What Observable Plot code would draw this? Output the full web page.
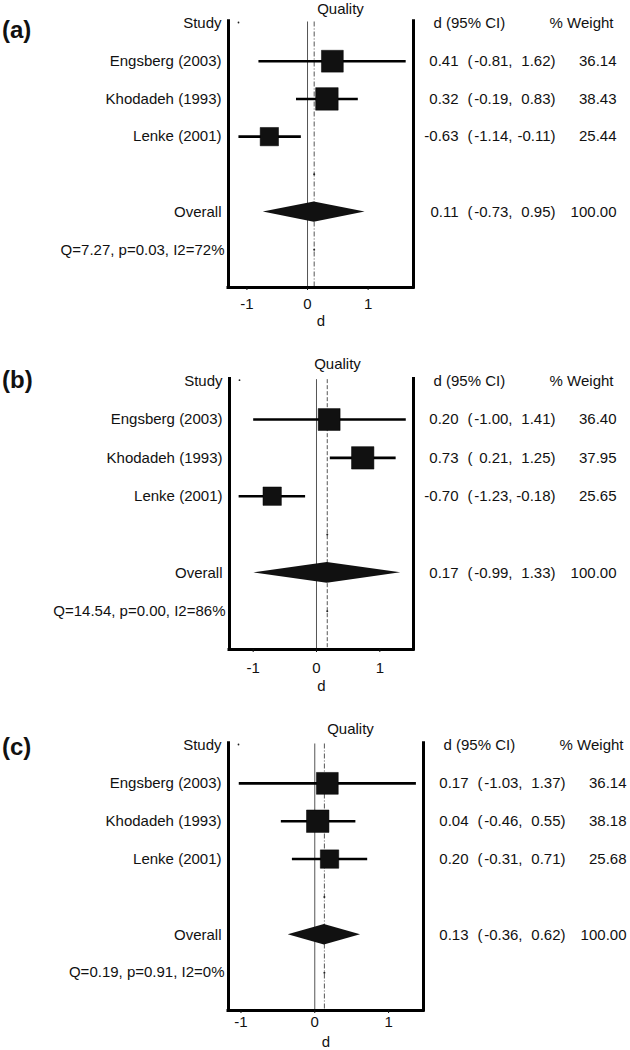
<!DOCTYPE html>
<html>
<head>
<meta charset="utf-8">
<script src="https://cdn.jsdelivr.net/npm/d3@7"></script>
<script src="https://cdn.jsdelivr.net/npm/@observablehq/plot@0.6"></script>
<style>
  html, body { margin: 0; padding: 0; background: #fff; }
  #wrap { position: relative; width: 630px; height: 1050px; overflow: hidden; background: #fff; }
  .panel { position: absolute; left: 0; }
  .plabel { position: absolute; left: 2px; font: bold 24px "Liberation Sans", Arial, sans-serif; color: #111; line-height: 24px; }
</style>
</head>
<body>
<div id="wrap"></div>
<script>
// ---------------- data ----------------
const studies = ["Engsberg (2003)", "Khodadeh (1993)", "Lenke (2001)"];
const panelLabels = ["(a)", "(b)", "(c)"];
const headStudy = "Study";
const headCI = "d (95% CI)";
const headWeight = "% Weight";
const overallLabel = "Overall";
const plotTitle = "Quality";
const axisLabel = "d";
const xTicks = [-1, 0, 1];

// panel (a)
const estA = [0.41, 0.32, -0.63];
const loA  = [-0.81, -0.19, -1.14];
const hiA  = [1.62, 0.83, -0.11];
const wA   = [36.14, 38.43, 25.44];
const overallA = [0.11, -0.73, 0.95]; // est, lo, hi
const overallWA = 100.00;
const hetA = "Q=7.27, p=0.03, I2=72%";

// panel (b)
const estB = [0.20, 0.73, -0.70];
const loB  = [-1.00, 0.21, -1.23];
const hiB  = [1.41, 1.25, -0.18];
const wB   = [36.40, 37.95, 25.65];
const overallB = [0.17, -0.99, 1.33];
const overallWB = 100.00;
const hetB = "Q=14.54, p=0.00, I2=86%";

// panel (c)
const estC = [0.17, 0.04, 0.20];
const loC  = [-1.03, -0.46, -0.31];
const hiC  = [1.37, 0.55, 0.71];
const wC   = [36.14, 38.18, 25.68];
const overallC = [0.13, -0.36, 0.62];
const overallWC = 100.00;
const hetC = "Q=0.19, p=0.91, I2=0%";

// ---------------- layout ----------------
const layouts = [
  {top: 0,   labelTop: 18,  height: 330, mt: 23,   mb: 43, ml: 228, mr: 217, domain: [-1.304, 1.749], titleDx: 112, titleDy: -14.5, tickPad: 8,  dDy: 34, dash: "5,2,1,2"},
  {top: 355, labelTop: 368, height: 339, mt: 25.7, mb: 45, ml: 229, mr: 217, domain: [-1.374, 1.532], titleDx: 108, titleDy: -17.5, tickPad: 10, dDy: 37, dash: "4,2"},
  {top: 720, labelTop: 735, height: 330, mt: 25,   mb: 40, ml: 228, mr: 207, domain: [-1.169, 1.473], titleDx: 122, titleDy: -16,  tickPad: 3,  dDy: 32, dash: "5,2,1,2"}
];

const panelsData = [
  {est: estA, lo: loA, hi: hiA, w: wA, ov: overallA, ovW: overallWA, het: hetA},
  {est: estB, lo: loB, hi: hiB, w: wB, ov: overallB, ovW: overallWB, het: hetB},
  {est: estC, lo: loC, hi: hiC, w: wC, ov: overallC, ovW: overallWC, het: hetC}
];

const FONT = '"Liberation Sans", Arial, sans-serif';
const INK = "#111";

function makePanel(pd, L) {
  const rows = studies.map((s, i) => ({label: s, row: i + 1, est: pd.est[i], lo: pd.lo[i], hi: pd.hi[i], w: pd.w[i]}));
  const ov = {label: overallLabel, row: 5, est: pd.ov[0], lo: pd.ov[1], hi: pd.ov[2], w: pd.ovW};
  const all = [...rows, ov];
  const leftLabels = [{label: headStudy, row: 0}, ...all];
  const half = 0.27;
  const diamond = [
    {x: ov.lo, y1: ov.row, y2: ov.row},
    {x: ov.est, y1: ov.row - half, y2: ov.row + half},
    {x: ov.hi, y1: ov.row, y2: ov.row}
  ];
  const [xmin, xmax] = L.domain;
  const T = {fontSize: 15, fill: INK, lineAnchor: "middle"};
  return Plot.plot({
    width: 630,
    height: L.height,
    marginTop: L.mt,
    marginBottom: L.mb,
    marginLeft: L.ml,
    marginRight: L.mr,
    x: {domain: L.domain},
    y: {domain: [0, 7], reverse: true, axis: null},
    r: {type: "sqrt", domain: [0, 100], range: [0, 20.5]},
    style: {fontFamily: FONT, fontSize: "15px", color: INK, background: "#fff", overflow: "visible"},
    marks: [
      // reference lines
      Plot.ruleX([0], {y1: -0.04, y2: 7, stroke: "#555", strokeWidth: 1}),
      Plot.ruleX([ov.est], {y1: -0.04, y2: 7, stroke: "#555", strokeWidth: 1, strokeDasharray: L.dash}),
      Plot.dot([4, 6], {x: () => ov.est, y: d => d, r: 1, fill: "#222"}),
      // frame (left, right, bottom)
      Plot.ruleX([xmin, xmax], {y1: -0.06, y2: 7, stroke: "#000", strokeWidth: 3, strokeLinecap: "square"}),
      Plot.ruleY([7], {stroke: "#000", strokeWidth: 3, strokeLinecap: "square"}),
      Plot.dot([0], {frameAnchor: "top-left", dx: 10, dy: -1, r: 0.9, fill: "#222"}),
      // CIs and boxes
      Plot.link(rows, {x1: "lo", x2: "hi", y1: "row", y2: "row", stroke: "#000", strokeWidth: 2.6}),
      Plot.dot(rows, {x: "est", y: "row", r: "w", symbol: "square", fill: INK, stroke: "#000", strokeWidth: 0.5}),
      // overall diamond
      Plot.areaY(diamond, {x: "x", y1: "y1", y2: "y2", fill: INK, curve: "linear"}),
      // axis
      Plot.axisX({ticks: xTicks, tickSize: 3, tickPadding: L.tickPad, label: null, fontSize: 15, tickFormat: d => String(d)}),
      Plot.text([axisLabel], {...T, text: d => d, frameAnchor: "bottom", textAnchor: "middle", dy: L.dDy}),
      // title
      Plot.text([plotTitle], {...T, text: d => d, frameAnchor: "top-left", textAnchor: "middle", dx: L.titleDx, dy: L.titleDy}),
      // left labels
      Plot.text(leftLabels, {...T, text: "label", y: "row", frameAnchor: "left", dx: -7, textAnchor: "end"}),
      Plot.text([{label: pd.het, row: 6}], {...T, text: "label", y: "row", frameAnchor: "left", dx: -4, textAnchor: "end"}),
      // right columns
      Plot.text([{label: headCI, row: 0}], {...T, text: "label", y: "row", frameAnchor: "right", dx: 20, textAnchor: "start"}),
      Plot.text([{label: headWeight, row: 0}], {...T, text: "label", y: "row", frameAnchor: "right", dx: 200, textAnchor: "end"}),
      Plot.text(all, {...T, text: d => d.est.toFixed(2), y: "row", frameAnchor: "right", dx: 45, textAnchor: "end"}),
      Plot.text(all, {...T, text: () => "(", y: "row", frameAnchor: "right", dx: 54, textAnchor: "start"}),
      Plot.text(all, {...T, text: d => d.lo.toFixed(2) + ",", y: "row", frameAnchor: "right", dx: 99, textAnchor: "end"}),
      Plot.text(all, {...T, text: d => d.hi.toFixed(2) + ")", y: "row", frameAnchor: "right", dx: 142, textAnchor: "end"}),
      Plot.text(all, {...T, text: d => d.w.toFixed(2), y: "row", frameAnchor: "right", dx: 203, textAnchor: "end"})
    ]
  });
}

const wrap = document.getElementById("wrap");
panelsData.forEach((pd, i) => {
  const L = layouts[i];
  const div = document.createElement("div");
  div.className = "panel";
  div.style.top = L.top + "px";
  div.appendChild(makePanel(pd, L));
  wrap.appendChild(div);
  const lab = document.createElement("div");
  lab.className = "plabel";
  lab.style.top = L.labelTop + "px";
  lab.textContent = panelLabels[i];
  wrap.appendChild(lab);
});
</script>
</body>
</html>
